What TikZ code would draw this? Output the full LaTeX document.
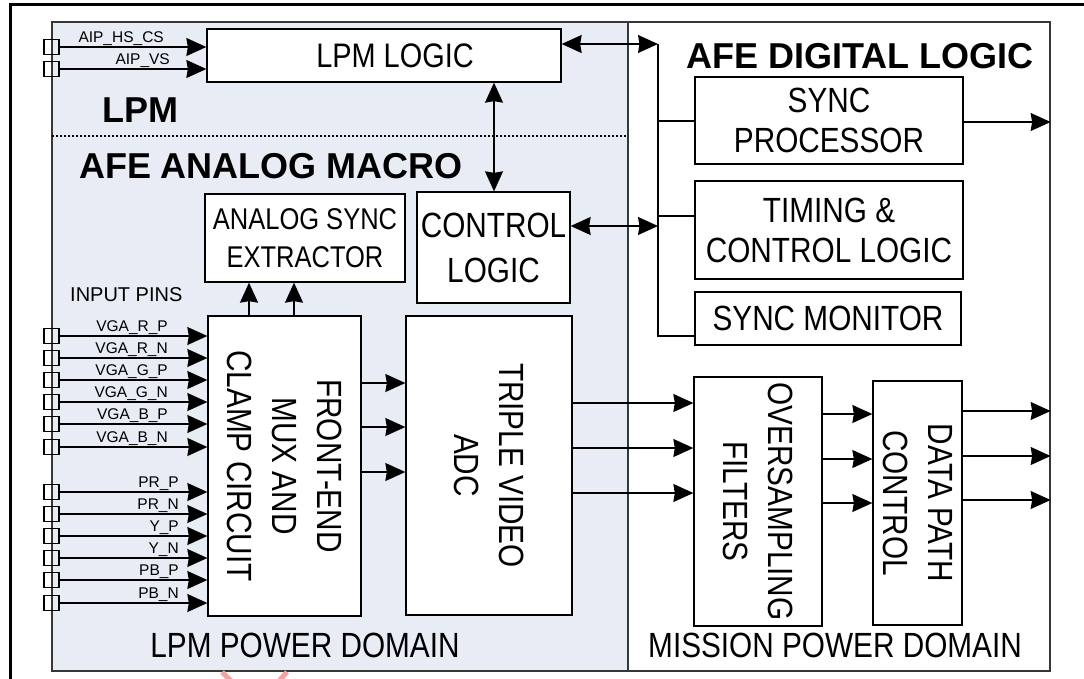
\documentclass[tikz,border=0pt]{standalone}
\usepackage{fontspec}
\setmainfont{Liberation Sans}[FakeStretch=0.85]
\newfontfamily\plainsans{Liberation Sans}
\usetikzlibrary{arrows.meta}
\definecolor{lpmfill}{RGB}{232,236,245}
\definecolor{rim}{RGB}{55,55,55}
\definecolor{stamp}{RGB}{250,160,160}

\begin{document}
\begin{tikzpicture}[x=1pt,y=-1pt,
  powerzone/.style={draw=rim, line width=1.3pt, inner sep=0pt},
  block/.style={draw=black, fill=white, line width=1.3pt, inner sep=0pt,
    font=\fontsize{35}{45}\selectfont, align=center},
  digi/.style={block, font=\fontsize{35}{40}\selectfont},
  big/.style={font=\fontsize{35}{45}\selectfont, align=center, inner sep=0pt},
  tag/.style={font=\plainsans\fontsize{15.5}{18}\selectfont, inner sep=0pt},
  headtxt/.style={font=\plainsans\bfseries\fontsize{36}{40}\selectfont, inner sep=0pt},
  pinbox/.style={draw=black, line width=1.1pt, minimum width=15pt, minimum height=15pt, inner sep=0pt},
  wire/.style={line width=1.4pt},
  link/.style={line width=1.4pt, -{Stealth[length=20pt,width=18pt,inset=1.5pt]}},
  both/.style={line width=1.4pt, {Stealth[length=20pt,width=18pt,inset=1.5pt]}-{Stealth[length=20pt,width=18pt,inset=1.5pt]}}]
\useasboundingbox (0,0) rectangle (1084,678);
\clip (0,0) rectangle (1084,678);

% outer frame
\draw[line width=3pt] (10,700) -- (10,4) -- (1100,4);

% power domains
\node[powerzone, fill=lpmfill, minimum width=576pt, minimum height=649pt] (lpm) at (340,346.5) {};
\node[powerzone, fill=white, minimum width=422pt, minimum height=649pt] (mission) at (839,346.5) {};
\coordinate (dl) at (52,136);
\coordinate (dr) at (628,136);
\draw[line width=1.1pt, dash pattern=on 2pt off 2pt] (dl) -- (dr);

% headings and domain names
\node[headtxt, anchor=base] at (140,122) {LPM};
\node[headtxt, anchor=base] at (271,178) {AFE ANALOG MACRO};
\node[headtxt, anchor=base] at (860,68) {AFE DIGITAL LOGIC};
\node[big, anchor=base] at (305,657) {LPM POWER DOMAIN};
\node[big, anchor=base] at (835,657) {MISSION POWER DOMAIN};
\node[tag, anchor=base west, font=\plainsans\fontsize{20}{24}\selectfont] at (70,301) {INPUT PINS};

% analog blocks
\node[block, minimum width=354pt, minimum height=53pt] (lpmlogic) at (384,55.5) {};
\node[big, font=\fontsize{34}{45}\selectfont] at (395,56) {LPM LOGIC};
\node[block, minimum width=153pt, minimum height=111pt] (ctrl) at (493.5,247.5) {CONTROL\\LOGIC};
\node[block, minimum width=200pt, minimum height=88pt, font=\fontsize{30}{38}\selectfont] (ase) at (305,238) {ANALOG SYNC\\EXTRACTOR};
\node[block, minimum width=153pt, minimum height=300pt] (fe) at (284.5,466) {};
\node[big, rotate=-90] at (fe.center) {FRONT-END\\MUX AND\\CLAMP CIRCUIT};
\node[block, minimum width=166pt, minimum height=299pt] (adc) at (489,465.5) {};
\node[big, rotate=-90] at (adc.center) {TRIPLE VIDEO\\ADC};

% digital blocks
\node[digi, minimum width=268pt, minimum height=87pt] (syncp) at (829,120.5) {SYNC\\PROCESSOR};
\node[digi, minimum width=268pt, minimum height=98pt] (timing) at (829,230) {TIMING \&\\CONTROL LOGIC};
\node[digi, minimum width=266pt, minimum height=53pt] (smon) at (828,318.5) {SYNC MONITOR};
\node[block, minimum width=128pt, minimum height=249pt] (osf) at (758,501.5) {};
\node[big, rotate=-90] at (osf.center) {OVERSAMPLING\\FILTERS};
\node[block, minimum width=89pt, minimum height=244pt] (dpc) at (917.5,503) {};
\node[big, rotate=-90] at (dpc.center) {DATA PATH\\CONTROL};

% input pins of the LPM logic
\node[pinbox] (hs) at (51.5,47) {};
\node[pinbox] (vs) at (51.5,69) {};
\draw[link] (hs.east) -- (hs.east -| lpmlogic.west);
\draw[link] (vs.east) -- (vs.east -| lpmlogic.west);
\node[tag, anchor=base east] at (164,42) {AIP\_HS\_CS};
\node[tag, anchor=base east] at (170,64) {AIP\_VS};

% video input pins
\foreach \n/\y/\t in {r1/336/VGA\_R\_P, r2/358/VGA\_R\_N, g1/380/VGA\_G\_P, g2/402/VGA\_G\_N,
                      b1/424/VGA\_B\_P, b2/447/VGA\_B\_N} {
  \node[pinbox] (\n) at (51.5,\y) {};
  \draw[link] (\n.east) -- (\n.east -| fe.west);
  \node[tag, anchor=base east] at (168,\y-5) {\t};
}
\foreach \n/\y/\t in {pr1/492/PR\_P, pr2/514/PR\_N, y1/536/Y\_P, y2/558/Y\_N,
                      pb1/580/PB\_P, pb2/603/PB\_N} {
  \node[pinbox] (\n) at (51.5,\y) {};
  \draw[link] (\n.east) -- (\n.east -| fe.west);
  \node[tag, anchor=base east] at (179,\y-5) {\t};
}

% analog data path
\draw[link] (fe.north -| 249,0) -- (ase.south -| 249,0);
\draw[link] (fe.north -| 294,0) -- (ase.south -| 294,0);
\draw[both] (lpmlogic.south -| 494,0) -- (ctrl.north -| 494,0);
\foreach \y in {383,427,472} \draw[link] (fe.east |- 0,\y) -- (adc.west |- 0,\y);
\foreach \y in {403,448,493} \draw[link] (adc.east |- 0,\y) -- (osf.west |- 0,\y);
\foreach \y in {414,459,503} \draw[link] (osf.east |- 0,\y) -- (dpc.west |- 0,\y);
\foreach \y in {411,456,500} \draw[link] (dpc.east |- 0,\y) -- (mission.east |- 0,\y);

% control bus
\coordinate (bt) at (658,44);
\coordinate (bb) at (658,336);
\draw[both] (lpmlogic.east |- bt) -- (bt);
\draw[wire] (bt) -- (bb) -- (smon.west |- bb);
\draw[wire] (bt |- 0,121) -- (syncp.west |- 0,121);
\draw[wire] (bt |- 0,216) -- (timing.west |- 0,216);
\draw[both] (ctrl.east |- 0,226) -- (bt |- 0,226);
\draw[link] (syncp.east |- 0,122) -- (mission.east |- 0,122);

% stamp marks below the frame
\draw[stamp, line width=5pt] (222,672) -- (231,681);
\draw[stamp, line width=5pt] (287,672) -- (279,681);
\end{tikzpicture}
\end{document}
